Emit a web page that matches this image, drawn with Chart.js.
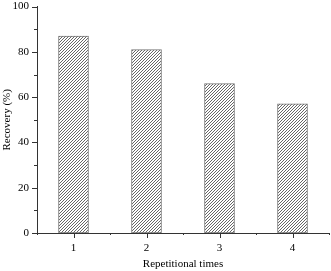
<!DOCTYPE html>
<html>
<head>
	<meta charset="utf-8">
	<style>
		html, body { margin: 0; padding: 0; background: #fff; }
		#wrap { width: 331px; height: 271px; position: relative; }
	</style>
</head>
<body>
	<div id="wrap"><canvas id="c"></canvas></div>
	<script src="https://cdn.jsdelivr.net/npm/chart.js@4/dist/chart.umd.min.js"></script>
	<script>
		const times = [1, 2, 3, 4];
		const recovery = [87, 81, 66, 57];
		const yTicks = [0, 20, 40, 60, 80, 100];

		const axisColor = '#333';
		const fontFamily = '"Liberation Serif", "Times New Roman", serif';

		// hatched fill like the original figure (3px diagonal lines)
		const hatch = (() => {
			const p = document.createElement('canvas');
			p.width = 3; p.height = 3;
			const g = p.getContext('2d');
			g.fillStyle = '#fff';
			g.fillRect(0, 0, 3, 3);
			g.fillStyle = '#666';
			for (let i = 0; i < 3; i++) {
				for (let j = 0; j < 3; j++) {
					if ((i + j) % 3 === 2) g.fillRect(i, j, 1, 1);
				}
			}
			return g.createPattern(p, 'repeat');
		})();

		// major + minor tick marks drawn outside the axes
		const tickMarks = {
			id: 'tickMarks',
			afterDraw(chart) {
				const ctx = chart.ctx;
				const x = chart.scales.x, y = chart.scales.y;
				const area = chart.chartArea;
				ctx.save();
				ctx.strokeStyle = axisColor;
				ctx.lineWidth = 1;
				ctx.beginPath();
				for (let v = 0; v <= 100; v += 10) {
					const py = Math.round(y.getPixelForValue(v)) + 0.5;
					const len = v % 20 === 0 ? 5 : 3;
					ctx.moveTo(area.left, py);
					ctx.lineTo(area.left - len, py);
				}
				for (let v = 0.5; v <= 4.5; v += 0.5) {
					const px = Math.round(x.getPixelForValue(v)) + 0.5;
					const len = Number.isInteger(v) ? 5 : 2;
					ctx.moveTo(px, area.bottom);
					ctx.lineTo(px, area.bottom + len);
				}
				ctx.stroke();
				ctx.restore();
			}
		};

		new Chart(document.getElementById('c'), {
			type: 'bar',
			data: {
				datasets: [{
					data: times.map((t, i) => ({ x: t, y: recovery[i] })),
					backgroundColor: hatch,
					borderColor: '#777',
					borderWidth: 1,
					borderSkipped: false,
					barThickness: 30
				}]
			},
			options: {
				responsive: true,
				maintainAspectRatio: false,
				animation: false,
				layout: { padding: { top: 5, right: 2, left: 0, bottom: 0 } },
				plugins: { legend: { display: false }, tooltip: { enabled: false } },
				scales: {
					x: {
						type: 'linear',
						min: 0.5,
						max: 4.5,
						offset: false,
						grid: { display: false },
						border: { display: true, color: axisColor, width: 1 },
						ticks: {
							padding: 1,
							color: '#000',
							font: { family: fontFamily, size: 11 },
							callback: v => String(v)
						},
						afterBuildTicks: s => { s.ticks = times.map(v => ({ value: v })); },
						afterFit: s => { s.height = 38; },
						title: {
							display: true,
							text: 'Repetitional times',
							color: '#000',
							font: { family: fontFamily, size: 11 },
							padding: { top: 1, bottom: 0 }
						}
					},
					y: {
						min: 0,
						max: 100,
						grid: { display: false },
						border: { display: true, color: axisColor, width: 1 },
						ticks: {
							padding: 0,
							color: '#000',
							font: { family: fontFamily, size: 11 }
						},
						afterBuildTicks: s => { s.ticks = yTicks.map(v => ({ value: v })); },
						afterFit: s => { s.width = 37; },
						title: {
							display: true,
							text: 'Recovery (%)',
							color: '#000',
							font: { family: fontFamily, size: 11 },
							padding: { top: 1, bottom: 0 }
						}
					}
				}
			},
			plugins: [tickMarks]
		});
	</script>
</body>
</html>
